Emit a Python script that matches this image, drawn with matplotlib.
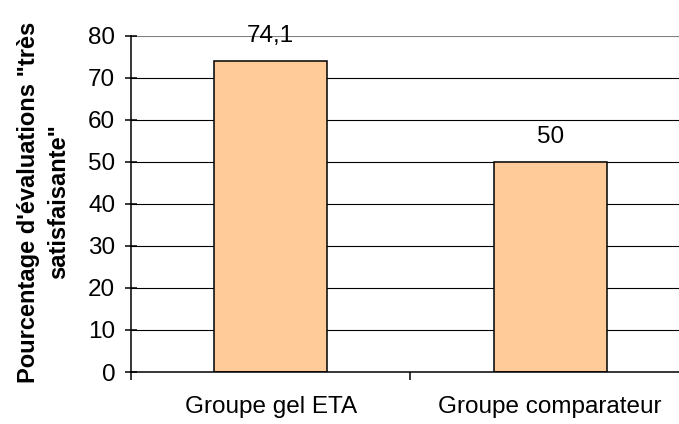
import matplotlib
matplotlib.use("Agg")
import matplotlib.pyplot as plt

categories = ["Groupe gel ETA", "Groupe comparateur"]
values = [74.1, 50]
value_labels = ["74,1", "50"]
y_ticks = [0, 10, 20, 30, 40, 50, 60, 70, 80]

BAR_COLOR = "#FFCC99"
FONT = "Liberation Sans"


def main():
    plt.rcParams["font.family"] = [FONT, "DejaVu Sans"]

    fig = plt.figure(figsize=(6.79, 4.24), dpi=100)
    ax = fig.add_axes([0.1929, 0.1226, 0.8233, 0.7932])

    x = list(range(len(categories)))
    ax.set_xlim(-0.5, len(categories) - 0.5)
    ax.set_ylim(0, 80)

    # horizontal gridlines (black), top one is the grey plot-area border
    for t in y_ticks[1:-1]:
        ax.axhline(t, color="black", lw=0.8, zorder=1)
    ax.axhline(80, color="#808080", lw=0.8, zorder=1)

    ax.bar(x, values, width=0.405, color=BAR_COLOR, edgecolor="black",
           linewidth=1.1, zorder=2)

    for xi, v, lab in zip(x, values, value_labels):
        ax.annotate(lab, (xi, v), xytext=(0, 13.5), textcoords="offset points",
                    ha="center", va="baseline", fontsize=17.5, color="black")

    for side in ("top", "right"):
        ax.spines[side].set_visible(False)
    ax.spines["left"].set_linewidth(1.1)
    ax.spines["bottom"].set_linewidth(1.1)

    ax.set_yticks(y_ticks)
    ax.set_yticklabels([str(t) for t in y_ticks], fontsize=17.5)
    ax.tick_params(axis="y", direction="inout", length=8.6, width=1.1, pad=7)

    ax.set_xticks(x)
    ax.set_xticklabels(categories, fontsize=17.5)
    ax.tick_params(axis="x", which="major", length=0, pad=17)
    ax.set_xticks([i - 0.5 for i in range(len(categories) + 1)], minor=True)
    ax.tick_params(axis="x", which="minor", direction="out", length=5.8, width=1.1)

    fig.text(43.5 / 679, 1 - 202 / 424,
             "Pourcentage d'évaluations \"très\nsatisfaisante\"",
             rotation=90, ha="center", va="center", multialignment="center",
             fontsize=17, fontweight="bold", linespacing=1.4)

    fig.savefig("out.png", dpi=100, facecolor="white")
    plt.close(fig)


if __name__ == "__main__":
    main()
